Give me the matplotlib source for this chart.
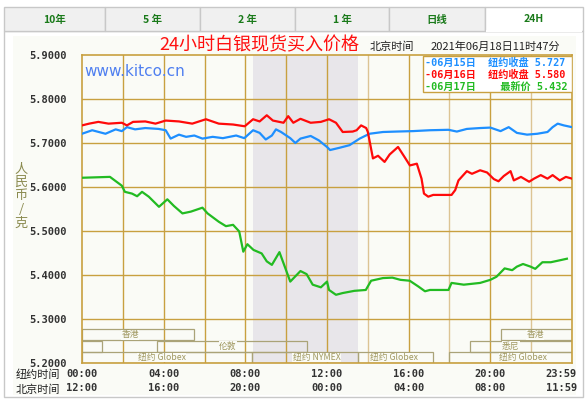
import matplotlib
matplotlib.use("Agg")
import matplotlib.pyplot as plt
from matplotlib.patches import Rectangle
from matplotlib.transforms import ScaledTranslation

W, H = 588, 399
CJK = ['Noto Sans CJK SC', 'DejaVu Sans']
MONO = ['DejaVu Sans Mono', 'Noto Sans CJK SC']

# ---------------- data ----------------
tabs = ["10年", "5 年", "2 年", "1 年", "日线", "24H"]

blue_t = [0.0, 0.5, 1.15, 1.65, 1.95, 2.2, 2.6, 3.1, 3.75, 4.1, 4.34, 4.75, 5.1, 5.5, 5.9, 6.4,
          6.9, 7.55, 7.95, 8.38, 8.7, 9.0, 9.3, 9.5, 9.75, 10.2, 10.45, 10.7, 11.2, 11.6, 12.0,
          12.15, 12.6, 13.1, 13.6, 14.08, 14.74, 15.4, 16.2, 17.04, 17.95, 18.36, 18.85, 19.5,
          20.0, 20.5, 20.9, 21.3, 21.8, 22.3, 22.8, 23.05, 23.3, 23.6, 24.0]
blue_v = [5.721, 5.729, 5.721, 5.731, 5.727, 5.736, 5.731, 5.734, 5.732, 5.729, 5.710, 5.719,
          5.714, 5.717, 5.710, 5.714, 5.711, 5.717, 5.711, 5.729, 5.723, 5.708, 5.717, 5.731,
          5.725, 5.711, 5.700, 5.710, 5.716, 5.706, 5.691, 5.684, 5.689, 5.695, 5.710, 5.721,
          5.725, 5.726, 5.727, 5.729, 5.730, 5.726, 5.732, 5.734, 5.735, 5.727, 5.736, 5.723,
          5.719, 5.721, 5.725, 5.736, 5.744, 5.740, 5.736]

red_t = [0.0, 0.35, 0.8, 1.3, 1.95, 2.2, 2.5, 3.1, 3.6, 4.1, 4.75, 5.4, 6.07, 6.7, 7.4, 7.97,
         8.38, 8.7, 9.05, 9.35, 9.87, 10.1, 10.35, 10.7, 11.2, 11.7, 12.1, 12.44, 12.77, 13.26,
         13.45, 13.67, 13.92, 14.0, 14.08, 14.25, 14.5, 14.82, 15.07, 15.48, 15.8, 16.06, 16.4,
         16.63, 16.75, 16.96, 17.2, 18.1, 18.28, 18.44, 18.85, 19.1, 19.5, 19.84, 20.17, 20.4,
         20.66, 20.99, 21.15, 21.5, 21.9, 22.14, 22.47, 22.8, 23.05, 23.4, 23.7, 24.0]
red_v = [5.740, 5.744, 5.748, 5.744, 5.746, 5.740, 5.748, 5.749, 5.744, 5.751, 5.749, 5.744,
         5.754, 5.744, 5.742, 5.738, 5.754, 5.749, 5.763, 5.751, 5.746, 5.761, 5.746, 5.755,
         5.746, 5.748, 5.754, 5.746, 5.725, 5.726, 5.729, 5.740, 5.734, 5.725, 5.706, 5.665,
         5.671, 5.657, 5.674, 5.691, 5.668, 5.649, 5.653, 5.619, 5.585, 5.578, 5.582, 5.582,
         5.593, 5.615, 5.636, 5.630, 5.638, 5.633, 5.618, 5.613, 5.625, 5.636, 5.615, 5.623,
         5.612, 5.619, 5.627, 5.619, 5.627, 5.615, 5.623, 5.619]

green_t = [0.0, 1.37, 1.95, 2.1, 2.45, 2.7, 2.94, 3.27, 3.77, 4.18, 4.5, 4.92, 5.33, 5.9, 6.15,
           6.7, 7.05, 7.4, 7.7, 7.9, 8.1, 8.4, 8.6, 8.8, 9.05, 9.3, 9.67, 9.9, 10.2, 10.7, 11.0,
           11.3, 11.7, 12.0, 12.1, 12.44, 12.77, 13.34, 13.9, 14.16, 14.74, 15.2, 15.6, 16.05,
           16.47, 16.8, 17.04, 17.95, 18.1, 18.7, 19.5, 20.0, 20.3, 20.7, 21.07, 21.3, 21.6,
           21.97, 22.2, 22.55, 22.96, 23.46, 23.75]
green_v = [5.621, 5.623, 5.603, 5.589, 5.585, 5.579, 5.589, 5.578, 5.555, 5.572, 5.557, 5.540,
           5.544, 5.553, 5.540, 5.521, 5.511, 5.514, 5.499, 5.453, 5.470, 5.457, 5.453, 5.449,
           5.431, 5.423, 5.452, 5.423, 5.385, 5.409, 5.402, 5.378, 5.372, 5.385, 5.366, 5.355,
           5.359, 5.364, 5.366, 5.387, 5.393, 5.394, 5.389, 5.387, 5.374, 5.363, 5.366, 5.366,
           5.382, 5.378, 5.382, 5.389, 5.396, 5.415, 5.411, 5.419, 5.425, 5.419, 5.414, 5.429,
           5.429, 5.434, 5.437]

y_ticks = [5.2, 5.3, 5.4, 5.5, 5.6, 5.7, 5.8, 5.9]
y_labels = ["5.2000", "5.3000", "5.4000", "5.5000", "5.6000", "5.7000", "5.8000", "5.9000"]
x_ticks = [0, 4, 8, 12, 16, 20, 24]
ny_labels = ["00:00", "04:00", "08:00", "12:00", "16:00", "20:00", "23:59"]
bj_labels = ["12:00", "16:00", "20:00", "00:00", "04:00", "08:00", "11:59"]

legend_lines = ["-06月15日  纽约收盘 5.727", "-06月16日  纽约收盘 5.580", "-06月17日    最新价 5.432"]

nymex_span = (8.38, 13.5)
# sessions: (row, start, end, label, label_pos)
sessions = [
    (0, 0.0, 5.5, "香港", 2.35), (0, 20.5, 24.0, "香港", 22.2),
    (1, 0.0, 1.0, "", 0), (1, 3.65, 11.0, "伦敦", 7.15), (1, 19.0, 24.0, "悉尼", 21.0),
    (2, 0.0, 8.33, "纽约 Globex", 3.9), (2, 8.33, 13.5, "纽约 NYMEX", 11.5),
    (2, 13.5, 17.2, "纽约 Globex", 15.3), (2, 18.0, 24.0, "纽约 Globex", 21.6),
]
row_bounds = [(5.252, 5.277), (5.226, 5.250), (5.2, 5.225)]

# ---------------- figure ----------------
fig = plt.figure(figsize=(W / 100, H / 100), dpi=100)
fig.patch.set_facecolor("white")

def fx(x):
    return x / W

def fy(y):
    return 1 - y / H

# content panel
fig.patches.append(Rectangle((fx(4), fy(397)), fx(583) - fx(4), fy(31) - fy(397),
                             transform=fig.transFigure, facecolor="white",
                             edgecolor="#c8c8c8", lw=1.0, zorder=-3))
fig.patches.append(Rectangle((fx(13), fy(395)), fx(576) - fx(13), fy(36) - fy(395),
                             transform=fig.transFigure, facecolor="#fafbf6",
                             edgecolor="none", zorder=-2))
# tabs
edges = [4, 105, 200, 295, 389, 485, 583]
for i, name in enumerate(tabs):
    sel = (i == len(tabs) - 1)
    fig.patches.append(Rectangle((fx(edges[i]), fy(31)), fx(edges[i + 1]) - fx(edges[i]),
                                 fy(7) - fy(31), transform=fig.transFigure,
                                 facecolor="white" if sel else "#f0f0f0",
                                 edgecolor="#c8c8c8", lw=1.0, zorder=-1))
    fig.text(fx((edges[i] + edges[i + 1]) / 2), fy(19.5), name, ha="center", va="center",
             fontsize=7.5, fontweight="bold", color="#1a7a1a", family=CJK)
fig.patches.append(Rectangle((fx(486), fy(32)), fx(582) - fx(486), 2 / H,
                             transform=fig.transFigure, facecolor="white",
                             edgecolor="none", zorder=-0.5))

ax = fig.add_axes([fx(82), fy(363), fx(572) - fx(82), fy(55) - fy(363)])
ax.set_zorder(2)
ax.set_facecolor("#fafbf6")
ax.set_xlim(0, 24)
ax.set_ylim(5.2, 5.9)

gold = "#c8a040"
ax.axvspan(*nymex_span, color="#e8e6ea", lw=0, zorder=0)
for h in range(2, 24, 2):
    ax.axvline(h, color="#dcc494" if h in (14, 18, 22) else gold, lw=1.0, zorder=1)
for v in [5.3, 5.4, 5.5, 5.6, 5.7, 5.8]:
    ax.axhline(v, color=gold, lw=1.0, zorder=1)
for s in ax.spines.values():
    s.set_color(gold)
    s.set_linewidth(1.2)

box_col = "#aaa378"
for row, a, b, lab, lp in sessions:
    y0, y1 = row_bounds[row]
    ax.add_patch(Rectangle((a, y0), b - a, y1 - y0, fill=False, edgecolor=box_col,
                           lw=0.9, zorder=2))
    if lab:
        ax.text(lp, (y0 + y1) / 2, lab, ha="center", va="center", fontsize=6.3,
                color="#a09860", family=CJK, zorder=3,
                bbox=dict(boxstyle="square,pad=0.05", fc="#fafbf6", ec="none"))

ax.plot(blue_t, blue_v, color="#1e8fff", lw=1.6, zorder=4)
ax.plot(red_t, red_v, color="#ff0a0a", lw=1.6, zorder=4)
ax.plot(green_t, green_v, color="#22bb22", lw=1.6, zorder=4)

ax.set_yticks(y_ticks)
ax.set_yticklabels(y_labels, family=MONO, fontsize=7.5, fontweight="bold", color="#333333")
ax.set_xticks(x_ticks)
ax.set_xticklabels([f"{a}\n{b}" for a, b in zip(ny_labels, bj_labels)], family=MONO,
                   fontsize=7.5, fontweight="bold", color="#333333", linespacing=1.5)
ax.tick_params(length=0, axis="y", pad=11)
ax.tick_params(length=0, axis="x", pad=4)
lbls = ax.get_xticklabels()
lbls[-1].set_horizontalalignment("right")
lbls[-1].set_transform(lbls[-1].get_transform() + ScaledTranslation(5 / 100, 0, fig.dpi_scale_trans))

# legend box
ax.add_patch(Rectangle((16.7, 5.816), 24 - 16.7, 5.898 - 5.816, facecolor="white",
                       edgecolor=gold, lw=1.0, zorder=5))
for i, (txt, c) in enumerate(zip(legend_lines, ["#1e8fff", "#ff0a0a", "#22bb22"])):
    fig.text(fx(425), fy(63 + 12 * i), txt, ha="left", va="center", fontsize=7.3,
             fontweight="bold", color=c, family=MONO, zorder=20)

# texts
fig.text(fx(259), fy(45), "24小时白银现货买入价格", ha="center", va="center", fontsize=13,
         color="#ff1010", family=CJK, zorder=20)
fig.text(fx(370), fy(47), "北京时间", ha="left", va="center", fontsize=8, color="#222222",
         family=CJK)
fig.text(fx(431), fy(47), "2021年06月18日11时47分", ha="left", va="center", fontsize=8,
         color="#222222", family=CJK)
fig.text(fx(84), fy(72), "www.kitco.cn", ha="left", va="center", fontsize=11,
         color="#4f7ff0", family=["DejaVu Sans"], zorder=20)
fig.text(fx(21), fy(196), "人\n民\n币\n/\n克", ha="center", va="center", fontsize=9.5,
         color="#8b8b50", family=CJK, linespacing=1.05)
fig.text(fx(16), fy(375), "纽约时间", ha="left", va="center", fontsize=8, color="#222222",
         family=CJK)
fig.text(fx(16), fy(390), "北京时间", ha="left", va="center", fontsize=8, color="#222222",
         family=CJK)

fig.savefig("out.png", dpi=100)
